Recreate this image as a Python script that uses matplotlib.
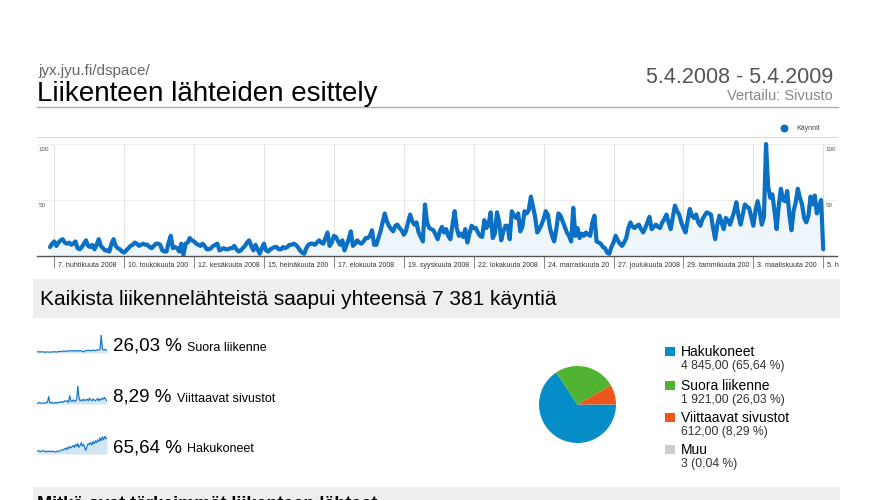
import matplotlib.pyplot as plt
import numpy as np
from matplotlib.patches import Rectangle

plt.rcParams['font.family'] = ['Liberation Sans', 'DejaVu Sans']

# daily visits 5.4.2008 - 5.4.2009
visits = [
    8, 11, 13, 9, 12, 14, 15,   12, 11, 12, 10, 11, 13, 7,
    6, 8, 11, 14, 9, 8, 10,     6, 10, 15, 9, 7, 5, 5,
    4, 11, 15, 9, 7, 6, 4,      3, 5, 7, 9, 10, 12, 11,
    9, 10, 11, 10, 10, 8, 7,    9, 11, 11, 10, 5, 4, 4,
    12, 18, 7, 8, 7, 4, 11,     1, 11, 12, 16, 14, 13, 11,
    10, 9, 11, 9, 6, 6, 7,      9, 10, 11, 5, 6, 7, 6,
    6, 7, 7, 9, 6, 4, 5,        7, 9, 12, 14, 9, 5, 10,
    6, 2, 7, 11, 5, 4, 6,       7, 8, 8, 6, 6, 8, 7,
    8, 10, 10, 11, 10, 8, 5,    3, 2, 7, 10, 11, 11, 10,
    12, 14, 12, 11, 16, 21, 9,  12, 18, 17, 13, 10, 14, 5,
    10, 15, 22, 9, 11, 14, 12,  11, 13, 16, 16, 18, 23, 10,
    10, 16, 22, 30, 38, 31, 27, 24, 22, 27, 28, 25, 23, 19,
    22, 30, 37, 31, 28, 30, 21, 17, 13, 46, 30, 25, 24, 23,
    19, 15, 22, 26, 21, 24, 18, 15, 28, 40, 25, 18, 20, 17,
    24, 12, 20, 27, 25, 25, 21, 18, 17, 32, 25, 28, 39, 16,
    20, 39, 31, 14, 22, 27, 27, 15, 40, 36, 34, 38, 22, 26,
    40, 38, 41, 53, 44, 35, 21, 24, 28, 33, 40, 37, 25, 18,
    13, 24, 38, 36, 31, 26, 21, 18, 13, 43, 18, 25, 16, 20,
    18, 21, 19, 18, 30, 36, 13, 12, 11, 8, 7, 3, 2, 8,
    12, 18, 14, 11, 9, 12, 16,  25, 30, 26, 25, 27, 28, 24,
    21, 25, 30, 35, 24, 26, 28, 26, 25, 30, 33, 37, 30, 24,
    35, 45, 40, 37, 30, 25, 21, 32, 42, 36, 34, 37, 30, 27,
    33, 36, 39, 38, 37, 25, 15, 28, 36, 30, 24, 34, 32, 28,
    34, 40, 48, 36, 28, 37, 46, 44, 43, 35, 27, 40, 49, 40,
    28, 35, 100, 62, 52, 55, 40, 24, 45, 60, 50, 49, 58, 37,
    23, 40, 48, 60, 52, 46, 34, 30, 36, 53, 46, 54, 38, 44,
    50, 6,
]
days = np.arange(len(visits))

tick_days = [2, 35, 68, 101, 134, 167, 200, 233, 266, 299, 332, 365]
tick_labels = ["7. huhtikuuta 2008", "10. toukokuuta 200", "12. kesäkuuta 2008",
               "15. heinäkuuta 200", "17. elokuuta 2008", "19. syyskuuta 2008",
               "22. lokakuuta 2008", "24. marraskuuta 20", "27. joulukuuta 2008",
               "29. tammikuuta 200", "3. maaliskuuta 200", "5. h"]
y_ticks = [50, 100]

# sparklines per source (coarse samples)
spark_suora = [3, 4, 3, 3, 4, 3, 3, 2, 3, 3, 3, 2, 3, 3, 3, 4, 3, 3, 4, 4,
               5, 4, 5, 6, 5, 5, 6, 5, 6, 7, 6, 6, 7, 6, 5, 7, 6, 7, 6, 5,
               3, 6, 7, 7, 8, 7, 6, 8, 7, 8, 7, 8, 9, 8, 10, 52, 12, 9, 10, 9, 8]
spark_viitt = [1, 1, 2, 1, 1, 1, 1, 1, 2, 2, 9, 2, 1, 2, 1, 1, 2, 1, 2, 2,
               2, 3, 2, 3, 4, 3, 4, 2, 10, 4, 3, 5, 4, 3, 6, 22, 7, 4, 5, 4,
               6, 4, 5, 6, 4, 7, 5, 4, 6, 5, 4, 5, 7, 4, 6, 5, 7, 6, 8, 5, 4]
spark_haku = [6, 7, 6, 5, 6, 7, 6, 5, 6, 5, 6, 5, 6, 5, 6, 5, 4, 6, 5, 6,
              7, 9, 8, 10, 12, 9, 14, 11, 16, 13, 15, 18, 14, 20, 16, 22, 14, 18, 24, 17,
              20, 12, 8, 18, 22, 20, 24, 19, 26, 22, 28, 24, 30, 26, 34, 28, 36, 30, 38, 32, 34]

spark_pct = ["26,03 %", "8,29 %", "65,64 %"]
spark_names = ["Suora liikenne", "Viittaavat sivustot", "Hakukoneet"]

sources = ["Hakukoneet", "Suora liikenne", "Viittaavat sivustot", "Muu"]
source_visits = [4845, 1921, 612, 3]
source_sub = ["4 845,00 (65,64 %)", "1 921,00 (26,03 %)", "612,00 (8,29 %)", "3 (0,04 %)"]
source_colors = ["#058dc7", "#50b432", "#ed561b", "#cccccc"]

W, H = 869, 500
fig = plt.figure(figsize=(W / 100, H / 100), dpi=100)


def px_axes(x0, y0, x1, y1):
    return fig.add_axes([x0 / W, 1 - y1 / H, (x1 - x0) / W, (y1 - y0) / H])


bg = fig.add_axes([0, 0, 1, 1])
bg.set_xlim(0, W)
bg.set_ylim(H, 0)
bg.axis('off')

# header
bg.text(38, 74.5, "jyx.jyu.fi/dspace/", fontsize=11, color='#666666', va='baseline')
bg.text(37, 101, "Liikenteen lähteiden esittely", fontsize=20, color='black', va='baseline')
bg.text(833, 83, "5.4.2008 - 5.4.2009", fontsize=15.5, color='#555555', ha='right', va='baseline')
bg.text(833, 100, "Vertailu: Sivusto", fontsize=10.5, color='#888888', ha='right', va='baseline')
bg.plot([37, 838], [107, 107], color='#aaaaaa', lw=1)

# legend of main chart
bg.scatter([784], [128], s=22, color='#0b6fc4')
bg.text(796, 130.5, "Käynnit", fontsize=5, color='#444444', va='baseline')

# summary band
bg.add_patch(Rectangle((33, 279), 807, 39, fc='#eeeeee', ec='none'))
bg.text(40, 305, "Kaikista liikennelähteistä saapui yhteensä 7 381 käyntiä",
        fontsize=15, color='black', va='baseline')
bg.add_patch(Rectangle((33, 487), 807, 20, fc='#eeeeee', ec='none'))
bg.text(37, 509, "Mitkä ovat tärkeimmät liikenteen lähteet", fontsize=13,
        fontweight='bold', color='black', va='baseline')

# main chart
ax = px_axes(37, 137, 837, 256)
ax.set_xlim(-6.14, 371.5)
ax.set_ylim(0, 106.25)
ax.fill_between(days, visits, color='#eef6fc', lw=0)
ax.plot(days, visits, color='#0b6fc4', lw=3, solid_joinstyle='round', solid_capstyle='round')
ax.vlines(tick_days, 0, 100, color='#e3e3e3', lw=0.8, zorder=0)
for v in y_ticks:
    ax.axhline(v, color='#eeeeee', lw=0.8, zorder=0)
    ax.annotate(str(v), xy=(0, v), xycoords=('axes fraction', 'data'), xytext=(1, -4),
                textcoords='offset points', fontsize=4.5, color='#555555', va='center')
    ax.annotate(str(v), xy=(1, v), xycoords=('axes fraction', 'data'), xytext=(-8.5, -4),
                textcoords='offset points', fontsize=4.5, color='#555555', va='center')
ax.set_xticks(tick_days)
ax.set_xticklabels([])
ax.set_yticks([])
ax.tick_params(axis='x', length=8.6, width=0.7, color='#888888', direction='out')
for d, lab in zip(tick_days, tick_labels):
    ax.annotate(lab, xy=(d, 0), xycoords=('data', 'axes fraction'), xytext=(2.9, -6.5),
                textcoords='offset points', fontsize=5, color='#333333', va='center',
                annotation_clip=False)
for s in ['left', 'right']:
    ax.spines[s].set_visible(False)
ax.spines['top'].set_color('#dddddd')
ax.spines['top'].set_linewidth(0.8)
ax.spines['bottom'].set_color('#555555')
ax.spines['bottom'].set_linewidth(1)
ax.patch.set_alpha(0)

# sparklines and percentages
spark_rows = [(335, 353, 350.7), (386, 404, 401.5), (436, 454, 452.5)]
spark_data = [spark_suora, spark_viitt, spark_haku]
name_x = [187, 177, 187]
for (y0, y1, base), data, pct, name, nx in zip(spark_rows, spark_data, spark_pct, spark_names, name_x):
    sax = px_axes(37, y0, 107, y1)
    xs = np.arange(len(data))
    sax.fill_between(xs, data, color='#d3e6f6', lw=0)
    sax.plot(xs, data, color='#1a78c8', lw=0.9)
    sax.set_xlim(0, len(data) - 1)
    sax.set_ylim(0, max(data))
    sax.axis('off')
    bg.text(113, base, pct, fontsize=13.5, color='black', va='baseline')
    bg.text(nx, base, name, fontsize=9, color='black', va='baseline')

# pie
pax = px_axes(539, 366, 616, 443)
pax.pie(source_visits, colors=source_colors, startangle=0, counterclock=False,
        wedgeprops=dict(linewidth=0))
pax.set_xlim(-1, 1)
pax.set_ylim(-1, 1)
pax.set_aspect('equal')

# pie legend
leg_base = [356, 390, 422, 454]
for lab, sub, col, b in zip(sources, source_sub, source_colors, leg_base):
    bg.add_patch(Rectangle((665, b - 9.5), 9.5, 9.5, fc=col, ec='none'))
    bg.text(680.7, b, lab, fontsize=10, color='black', va='baseline')
    bg.text(680.7, b + 13, sub, fontsize=8.7, color='#333333', va='baseline')

fig.savefig("out.png", dpi=100)
